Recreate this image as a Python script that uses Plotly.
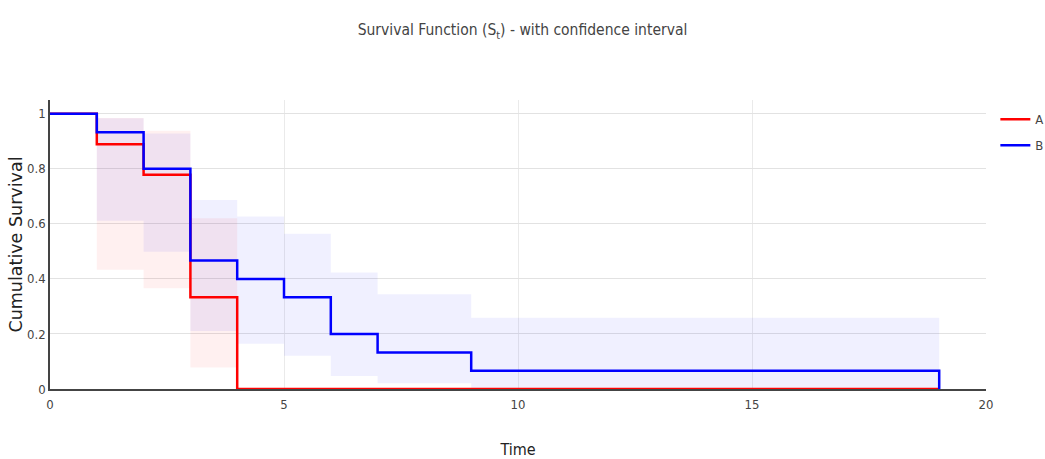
import plotly.graph_objects as go

# Kaplan-Meier estimates per group (event times and survival after each step)
times_a = [0, 1, 2, 3, 4, 19]
surv_a = [1.0, 0.889, 0.778, 0.333, 0.0, 0.0]
ci_times_a = [0, 1, 2, 3, 4]
ci_upper_a = [1.0, 0.985, 0.938, 0.620, 0.620]
ci_lower_a = [1.0, 0.433, 0.366, 0.078, 0.078]

times_b = [0, 1, 2, 3, 4, 5, 6, 7, 9, 19]
surv_b = [1.0, 0.933, 0.800, 0.467, 0.400, 0.333, 0.200, 0.133, 0.0667, 0.0]
ci_times_b = [0, 1, 2, 3, 4, 5, 6, 7, 9, 19]
ci_upper_b = [1.0, 0.984, 0.928, 0.687, 0.627, 0.564, 0.423, 0.344, 0.259, 0.259]
ci_lower_b = [1.0, 0.611, 0.499, 0.211, 0.164, 0.121, 0.047, 0.021, 0.004, 0.004]

group_names = ["A", "B"]
x_ticks = [0, 5, 10, 15, 20]
y_ticks = [0, 0.2, 0.4, 0.6, 0.8, 1]
y_tick_text = ["0", "0.2", "0.4", "0.6", "0.8", "1"]

narrow = "Liberation Sans Narrow, DejaVu Sans Condensed, sans-serif"

fig = go.Figure()


def add_band(t, lo, hi, fill):
    fig.add_trace(go.Scatter(x=t, y=hi, mode="lines", line=dict(width=0, shape="hv"),
                             showlegend=False, hoverinfo="skip"))
    fig.add_trace(go.Scatter(x=t, y=lo, mode="lines", line=dict(width=0, shape="hv"),
                             fill="tonexty", fillcolor=fill,
                             showlegend=False, hoverinfo="skip"))


add_band(ci_times_a, ci_lower_a, ci_upper_a, "rgba(255,0,0,0.06)")
add_band(ci_times_b, ci_lower_b, ci_upper_b, "rgba(0,0,255,0.06)")

fig.add_trace(go.Scatter(x=times_a, y=surv_a, mode="lines", name=group_names[0],
                         legendgroup="A", line=dict(color="red", width=2.5, shape="hv")))
fig.add_trace(go.Scatter(x=times_b, y=surv_b, mode="lines", name=group_names[1],
                         legendgroup="B", line=dict(color="blue", width=2.5, shape="hv")))

fig.update_layout(
    width=1045, height=459,
    margin=dict(l=50, r=59, t=100, b=70, autoexpand=False),
    paper_bgcolor="white", plot_bgcolor="white",
    title=dict(text="Survival Function (S<sub>t</sub>) - with confidence interval",
               x=0.5, xanchor="center", y=0.935, yanchor="middle",
               font=dict(family=narrow, size=15.5, color="#444")),
    font=dict(family=narrow, size=12, color="#444"),
    legend=dict(x=1.01, y=0.985, xanchor="left", yanchor="top",
                tracegroupgap=6, font=dict(family=narrow, size=13, color="#444")),
    xaxis=dict(range=[0, 20], tickvals=x_ticks, showgrid=True, gridcolor="#eaeaea",
               zeroline=False, showline=True, linecolor="#444", linewidth=1.5,
               ticks="", ticklabelstandoff=3,
               tickfont=dict(family=narrow, size=13, color="#444"),
               title=dict(text="Time", standoff=40,
                          font=dict(family=narrow, size=16, color="#222"))),
    yaxis=dict(range=[0, 1.05], tickvals=y_ticks, ticktext=y_tick_text,
               showgrid=True, gridcolor="#e2e2e2", zeroline=False,
               showline=True, linecolor="#444", linewidth=1.5, ticks="",
               tickfont=dict(family=narrow, size=13, color="#444"),
               title=dict(text="Cumulative Survival", standoff=0,
                          font=dict(family="DejaVu Sans, Verdana, sans-serif", size=17.5, color="#222"))),
)

fig.write_html("out.html")
